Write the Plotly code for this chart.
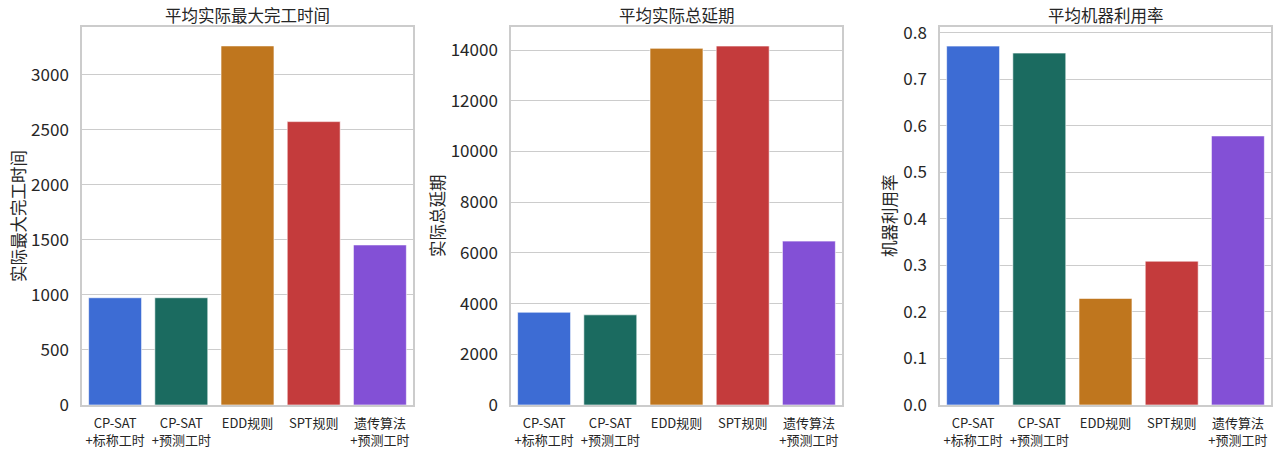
import plotly.graph_objects as go
from plotly.subplots import make_subplots

methods = ["CP-SAT<br>+标称工时", "CP-SAT<br>+预测工时", "EDD规则", "SPT规则", "遗传算法<br>+预测工时"]
bar_colors = ["#3d6cd4", "#1b6b60", "#bf761e", "#c43b3c", "#8350d6"]

makespan = [975, 975, 3264, 2576, 1455]
tardiness = [3660, 3557, 14071, 14162, 6466]
utilization = [0.771, 0.756, 0.229, 0.309, 0.578]

titles = ["平均实际最大完工时间", "平均实际总延期", "平均机器利用率"]
ylabels = ["实际最大完工时间", "实际总延期", "机器利用率"]
yranges = [[0, 3436], [0, 14913], [0, 0.812]]
ydtick = [500, 2000, 0.1]
ytickfmt = ["d", "d", ".1f"]

FONT = "Noto Sans CJK SC, Microsoft YaHei, sans-serif"
W, H = 1280, 452

fig = make_subplots(rows=1, cols=3)

for i, vals in enumerate([makespan, tardiness, utilization]):
    fig.add_trace(go.Bar(x=list(range(len(methods))), y=vals, width=0.8,
                         marker=dict(color=bar_colors, line=dict(color="#ffffff", width=0.6)),
                         showlegend=False, hoverinfo="none"), row=1, col=i + 1)

x_domains = [[82 / W, 413 / W], [511 / W, 842 / W], [940 / W, 1271 / W]]
y_domain = [1 - 405 / H, 1 - 27 / H]
ylabel_x = [18, 437, 889]

for i in range(3):
    ax = "" if i == 0 else str(i + 1)
    fig.layout["xaxis" + ax].update(
        domain=x_domains[i], range=[-0.5, 4.5], tickmode="array",
        tickvals=list(range(len(methods))), ticktext=methods, automargin=False,
        tickfont=dict(size=13, color="#262626"), ticklabelstandoff=6,
        showgrid=False, zeroline=False,
        showline=True, linecolor="#cccccc", linewidth=1.5, mirror=True, ticks="")
    fig.layout["yaxis" + ax].update(
        domain=y_domain, range=yranges[i], dtick=ydtick[i], tick0=0, automargin=False,
        tickformat=ytickfmt[i], tickfont=dict(size=17, color="#262626"),
        ticklabelstandoff=8,
        showgrid=True, gridcolor="#cccccc", gridwidth=1.2, zeroline=False,
        showline=True, linecolor="#cccccc", linewidth=1.5, mirror=True, ticks="")
    fig.add_annotation(text=titles[i], xref="paper", yref="paper",
                       x=sum(x_domains[i]) / 2, y=1 - 15 / H, xanchor="center", yanchor="middle",
                       showarrow=False, font=dict(size=16.5, color="#262626"))
    fig.add_annotation(text=ylabels[i], xref="paper", yref="paper", textangle=-90,
                       x=ylabel_x[i] / W, y=sum(y_domain) / 2, xanchor="center", yanchor="middle",
                       showarrow=False, font=dict(size=16.5, color="#262626"))

fig.update_layout(width=W, height=H, margin=dict(l=0, r=0, t=0, b=0, autoexpand=False),
                  plot_bgcolor="#ffffff", paper_bgcolor="#ffffff",
                  font=dict(family=FONT), bargap=0.2)

fig.write_html("out.html", config={"displayModeBar": False},
               post_script="document.body.style.margin='0';")
